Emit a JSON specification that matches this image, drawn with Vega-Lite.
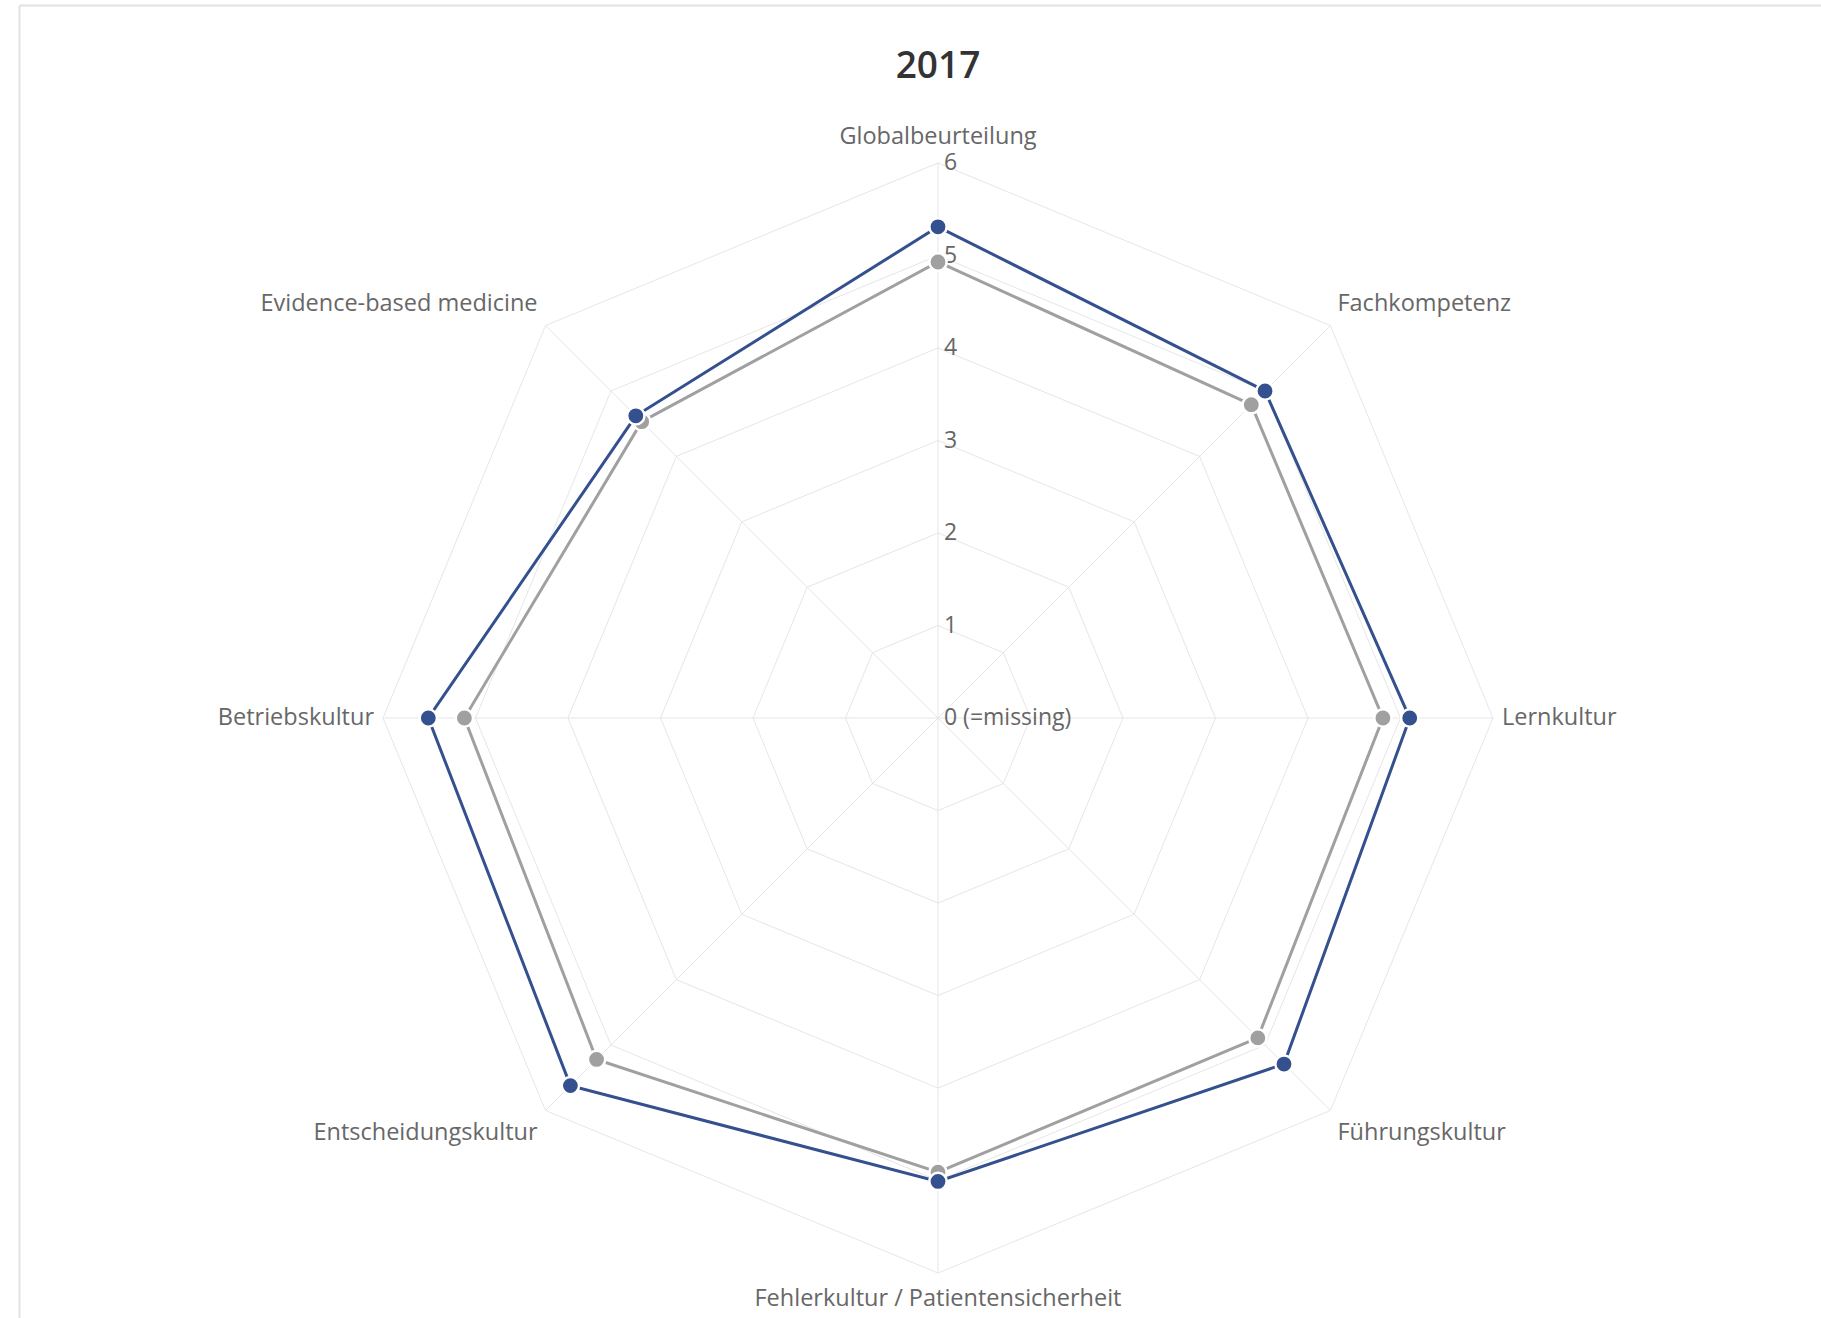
{
  "$schema": "https://vega.github.io/schema/vega-lite/v6.json",
  "width": 1802,
  "height": 1313,
  "autosize": {"type": "none"},
  "padding": {"left": 19, "top": 5, "right": 0, "bottom": 0},
  "background": "white",
  "config": {
    "view": {"stroke": null},
    "font": "Open Sans"
  },
  "title": {
    "text": "2017",
    "fontSize": 37,
    "fontWeight": 600,
    "color": "#333333",
    "font": "Open Sans",
    "anchor": "middle",
    "dx": 18,
    "offset": -110,
    "baseline": "alphabetic"
  },
  "datasets": {
    "axes": [
      {"i": 0, "axis": "Globalbeurteilung", "levels": [1, 2, 3, 4, 5, 6]},
      {"i": 1, "axis": "Fachkompetenz", "levels": [1, 2, 3, 4, 5, 6]},
      {"i": 2, "axis": "Lernkultur", "levels": [1, 2, 3, 4, 5, 6]},
      {"i": 3, "axis": "Führungskultur", "levels": [1, 2, 3, 4, 5, 6]},
      {"i": 4, "axis": "Fehlerkultur / Patientensicherheit", "levels": [1, 2, 3, 4, 5, 6]},
      {"i": 5, "axis": "Entscheidungskultur", "levels": [1, 2, 3, 4, 5, 6]},
      {"i": 6, "axis": "Betriebskultur", "levels": [1, 2, 3, 4, 5, 6]},
      {"i": 7, "axis": "Evidence-based medicine", "levels": [1, 2, 3, 4, 5, 6]}
    ],
    "ticks": [
      {"level": 0, "label": "0 (=missing)"},
      {"level": 1, "label": "1"},
      {"level": 2, "label": "2"},
      {"level": 3, "label": "3"},
      {"level": 4, "label": "4"},
      {"level": 5, "label": "5"},
      {"level": 6, "label": "6"}
    ],
    "scores": [
      {"series": "Vergleich", "i": 0, "axis": "Globalbeurteilung", "value": 4.93},
      {"series": "Vergleich", "i": 1, "axis": "Fachkompetenz", "value": 4.79},
      {"series": "Vergleich", "i": 2, "axis": "Lernkultur", "value": 4.81},
      {"series": "Vergleich", "i": 3, "axis": "Führungskultur", "value": 4.89},
      {"series": "Vergleich", "i": 4, "axis": "Fehlerkultur / Patientensicherheit", "value": 4.91},
      {"series": "Vergleich", "i": 5, "axis": "Entscheidungskultur", "value": 5.22},
      {"series": "Vergleich", "i": 6, "axis": "Betriebskultur", "value": 5.12},
      {"series": "Vergleich", "i": 7, "axis": "Evidence-based medicine", "value": 4.53},
      {"series": "Eigene", "i": 0, "axis": "Globalbeurteilung", "value": 5.31},
      {"series": "Eigene", "i": 1, "axis": "Fachkompetenz", "value": 5.0},
      {"series": "Eigene", "i": 2, "axis": "Lernkultur", "value": 5.1},
      {"series": "Eigene", "i": 3, "axis": "Führungskultur", "value": 5.29},
      {"series": "Eigene", "i": 4, "axis": "Fehlerkultur / Patientensicherheit", "value": 5.01},
      {"series": "Eigene", "i": 5, "axis": "Entscheidungskultur", "value": 5.62},
      {"series": "Eigene", "i": 6, "axis": "Betriebskultur", "value": 5.51},
      {"series": "Eigene", "i": 7, "axis": "Evidence-based medicine", "value": 4.62}
    ]
  },
  "layer": [
    {
      "data": {"name": "axes"},
      "transform": [
        {"flatten": ["levels"], "as": ["level"]},
        {"calculate": "datum.i * PI / 4", "as": "a0"},
        {"calculate": "(datum.i + 1) * PI / 4", "as": "a1"},
        {"calculate": "datum.level * sin(datum.a0)", "as": "gx"},
        {"calculate": "datum.level * cos(datum.a0)", "as": "gy"},
        {"calculate": "datum.level * sin(datum.a1)", "as": "gx2"},
        {"calculate": "datum.level * cos(datum.a1)", "as": "gy2"}
      ],
      "mark": {"type": "rule", "color": "#e6e6e6", "strokeWidth": 1},
      "encoding": {
        "x": {"field": "gx", "type": "quantitative", "scale": {"domain": [-9.935, 9.546], "nice": false, "zero": false},
              "axis": {"orient": "top", "domain": true, "domainColor": "#e2e2e2", "domainWidth": 2, "ticks": false, "labels": false, "grid": false, "title": null}},
        "y": {"field": "gy", "type": "quantitative", "scale": {"domain": [-6.486, 7.708], "nice": false, "zero": false},
              "axis": {"orient": "left", "domain": true, "domainColor": "#e2e2e2", "domainWidth": 2, "ticks": false, "labels": false, "grid": false, "title": null}},
        "x2": {"field": "gx2"},
        "y2": {"field": "gy2"}
      }
    },
    {
      "data": {"name": "axes"},
      "transform": [
        {"calculate": "datum.i * PI / 4", "as": "a0"},
        {"calculate": "0", "as": "cx"},
        {"calculate": "6 * sin(datum.a0)", "as": "sx"},
        {"calculate": "6 * cos(datum.a0)", "as": "sy"}
      ],
      "mark": {"type": "rule", "color": "#e6e6e6", "strokeWidth": 1},
      "encoding": {
        "x": {"field": "cx", "type": "quantitative"},
        "y": {"field": "cx", "type": "quantitative"},
        "x2": {"field": "sx"},
        "y2": {"field": "sy"}
      }
    },
    {
      "data": {"name": "ticks"},
      "transform": [{"calculate": "0", "as": "cx"}],
      "mark": {"type": "text", "align": "left", "baseline": "middle", "dx": 6, "fontSize": 23, "color": "#666666", "font": "Open Sans"},
      "encoding": {
        "x": {"field": "cx", "type": "quantitative"},
        "y": {"field": "level", "type": "quantitative"},
        "text": {"field": "label", "type": "nominal"}
      }
    },
    {
      "data": {"name": "scores"},
      "transform": [
        {"calculate": "datum.i * PI / 4", "as": "a"},
        {"calculate": "datum.value * sin(datum.a)", "as": "px"},
        {"calculate": "datum.value * cos(datum.a)", "as": "py"}
      ],
      "mark": {"type": "line", "interpolate": "linear-closed", "strokeWidth": 3},
      "encoding": {
        "x": {"field": "px", "type": "quantitative"},
        "y": {"field": "py", "type": "quantitative"},
        "order": {"field": "i", "type": "quantitative"},
        "color": {"field": "series", "type": "nominal", "scale": {"domain": ["Vergleich", "Eigene"], "range": ["#a0a0a0", "#34508e"]}, "legend": null}
      }
    },
    {
      "data": {"name": "scores"},
      "transform": [
        {"calculate": "datum.i * PI / 4", "as": "a"},
        {"calculate": "datum.value * sin(datum.a)", "as": "px"},
        {"calculate": "datum.value * cos(datum.a)", "as": "py"}
      ],
      "mark": {"type": "point", "filled": true, "shape": "circle", "size": 300, "stroke": "white", "strokeWidth": 2.5, "opacity": 1},
      "encoding": {
        "x": {"field": "px", "type": "quantitative"},
        "y": {"field": "py", "type": "quantitative"},
        "color": {"field": "series", "type": "nominal", "scale": {"domain": ["Vergleich", "Eigene"], "range": ["#a0a0a0", "#34508e"]}, "legend": null}
      }
    },
    {
      "data": {"name": "axes"},
      "transform": [
        {"filter": "datum.i == 0"},
        {"calculate": "6 * sin(datum.i * PI / 4)", "as": "lx"},
        {"calculate": "6 * cos(datum.i * PI / 4)", "as": "ly"}
      ],
      "mark": {"type": "text", "align": "center", "baseline": "middle", "dy": -26, "fontSize": 23.5, "color": "#676767", "font": "Open Sans"},
      "encoding": {"x": {"field": "lx", "type": "quantitative"}, "y": {"field": "ly", "type": "quantitative"}, "text": {"field": "axis", "type": "nominal"}}
    },
    {
      "data": {"name": "axes"},
      "transform": [
        {"filter": "datum.i == 4"},
        {"calculate": "6 * sin(datum.i * PI / 4)", "as": "lx"},
        {"calculate": "6 * cos(datum.i * PI / 4)", "as": "ly"}
      ],
      "mark": {"type": "text", "align": "center", "baseline": "middle", "dy": 26, "fontSize": 23.5, "color": "#676767", "font": "Open Sans"},
      "encoding": {"x": {"field": "lx", "type": "quantitative"}, "y": {"field": "ly", "type": "quantitative"}, "text": {"field": "axis", "type": "nominal"}}
    },
    {
      "data": {"name": "axes"},
      "transform": [
        {"filter": "datum.i == 1"},
        {"calculate": "6 * sin(datum.i * PI / 4)", "as": "lx"},
        {"calculate": "6 * cos(datum.i * PI / 4)", "as": "ly"}
      ],
      "mark": {"type": "text", "align": "left", "baseline": "middle", "dx": 7, "dy": -22, "fontSize": 23.5, "color": "#676767", "font": "Open Sans"},
      "encoding": {"x": {"field": "lx", "type": "quantitative"}, "y": {"field": "ly", "type": "quantitative"}, "text": {"field": "axis", "type": "nominal"}}
    },
    {
      "data": {"name": "axes"},
      "transform": [
        {"filter": "datum.i == 2"},
        {"calculate": "6 * sin(datum.i * PI / 4)", "as": "lx"},
        {"calculate": "6 * cos(datum.i * PI / 4)", "as": "ly"}
      ],
      "mark": {"type": "text", "align": "left", "baseline": "middle", "dx": 9, "fontSize": 23.5, "color": "#676767", "font": "Open Sans"},
      "encoding": {"x": {"field": "lx", "type": "quantitative"}, "y": {"field": "ly", "type": "quantitative"}, "text": {"field": "axis", "type": "nominal"}}
    },
    {
      "data": {"name": "axes"},
      "transform": [
        {"filter": "datum.i == 3"},
        {"calculate": "6 * sin(datum.i * PI / 4)", "as": "lx"},
        {"calculate": "6 * cos(datum.i * PI / 4)", "as": "ly"}
      ],
      "mark": {"type": "text", "align": "left", "baseline": "middle", "dx": 7, "dy": 23, "fontSize": 23.5, "color": "#676767", "font": "Open Sans"},
      "encoding": {"x": {"field": "lx", "type": "quantitative"}, "y": {"field": "ly", "type": "quantitative"}, "text": {"field": "axis", "type": "nominal"}}
    },
    {
      "data": {"name": "axes"},
      "transform": [
        {"filter": "datum.i == 5"},
        {"calculate": "6 * sin(datum.i * PI / 4)", "as": "lx"},
        {"calculate": "6 * cos(datum.i * PI / 4)", "as": "ly"}
      ],
      "mark": {"type": "text", "align": "right", "baseline": "middle", "dx": -8, "dy": 23, "fontSize": 23.5, "color": "#676767", "font": "Open Sans"},
      "encoding": {"x": {"field": "lx", "type": "quantitative"}, "y": {"field": "ly", "type": "quantitative"}, "text": {"field": "axis", "type": "nominal"}}
    },
    {
      "data": {"name": "axes"},
      "transform": [
        {"filter": "datum.i == 6"},
        {"calculate": "6 * sin(datum.i * PI / 4)", "as": "lx"},
        {"calculate": "6 * cos(datum.i * PI / 4)", "as": "ly"}
      ],
      "mark": {"type": "text", "align": "right", "baseline": "middle", "dx": -9, "fontSize": 23.5, "color": "#676767", "font": "Open Sans"},
      "encoding": {"x": {"field": "lx", "type": "quantitative"}, "y": {"field": "ly", "type": "quantitative"}, "text": {"field": "axis", "type": "nominal"}}
    },
    {
      "data": {"name": "axes"},
      "transform": [
        {"filter": "datum.i == 7"},
        {"calculate": "6 * sin(datum.i * PI / 4)", "as": "lx"},
        {"calculate": "6 * cos(datum.i * PI / 4)", "as": "ly"}
      ],
      "mark": {"type": "text", "align": "right", "baseline": "middle", "dx": -8, "dy": -22, "fontSize": 23.5, "color": "#676767", "font": "Open Sans"},
      "encoding": {"x": {"field": "lx", "type": "quantitative"}, "y": {"field": "ly", "type": "quantitative"}, "text": {"field": "axis", "type": "nominal"}}
    }
  ]
}
